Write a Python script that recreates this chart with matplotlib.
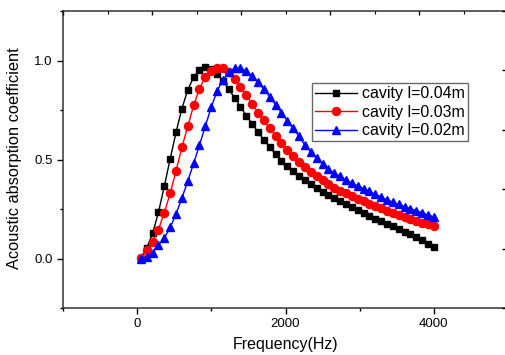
import matplotlib
matplotlib.use("Agg")
import matplotlib.pyplot as plt
from matplotlib.ticker import MultipleLocator

plt.rcParams['font.family'] = ['Liberation Sans', 'DejaVu Sans']

freq = [50, 129, 208, 287, 366, 445, 524, 603, 682, 761,
        840, 919, 998, 1077, 1156, 1235, 1314, 1393, 1472, 1551,
        1630, 1709, 1788, 1867, 1946, 2025, 2104, 2183, 2262, 2341,
        2420, 2499, 2578, 2657, 2736, 2815, 2894, 2973, 3052, 3131,
        3210, 3289, 3368, 3447, 3526, 3605, 3684, 3763, 3842, 3921, 4000]

l004 = [0.005, 0.053, 0.127, 0.233, 0.365, 0.503, 0.637, 0.757, 0.851, 0.916,
        0.952, 0.965, 0.958, 0.934, 0.897, 0.855, 0.811, 0.766, 0.722, 0.679,
        0.638, 0.599, 0.562, 0.527, 0.494, 0.466, 0.442, 0.418, 0.394, 0.374,
        0.355, 0.337, 0.322, 0.307, 0.292, 0.277, 0.260, 0.244, 0.229, 0.215,
        0.201, 0.188, 0.175, 0.162, 0.149, 0.136, 0.122, 0.107, 0.092, 0.075, 0.058]

l003 = [0.005, 0.043, 0.083, 0.146, 0.232, 0.329, 0.442, 0.561, 0.667, 0.773,
        0.857, 0.917, 0.948, 0.961, 0.961, 0.943, 0.906, 0.866, 0.824, 0.780,
        0.737, 0.697, 0.657, 0.619, 0.583, 0.549, 0.516, 0.489, 0.460, 0.437,
        0.416, 0.396, 0.377, 0.358, 0.343, 0.329, 0.314, 0.301, 0.289, 0.277,
        0.265, 0.254, 0.242, 0.231, 0.220, 0.209, 0.199, 0.190, 0.181, 0.173, 0.165]

l002 = [0.0, 0.008, 0.029, 0.068, 0.103, 0.157, 0.224, 0.305, 0.390, 0.480,
        0.573, 0.668, 0.764, 0.845, 0.903, 0.940, 0.960, 0.962, 0.946, 0.922,
        0.890, 0.854, 0.817, 0.777, 0.736, 0.695, 0.657, 0.617, 0.573, 0.538,
        0.506, 0.478, 0.452, 0.432, 0.415, 0.398, 0.382, 0.367, 0.353, 0.339,
        0.324, 0.310, 0.297, 0.285, 0.273, 0.262, 0.252, 0.242, 0.231, 0.220, 0.210]

labels = ['cavity l=0.04m', 'cavity l=0.03m', 'cavity l=0.02m']

fig = plt.figure(figsize=(5.06, 3.55), dpi=100)
ax = fig.add_axes([63/506, 47/355, 445/506, 297/355])

ax.plot(freq, l004, color='black', marker='s', markersize=5.0, lw=1, label=labels[0])
ax.plot(freq, l003, color='red', marker='o', markersize=5.8, lw=1, label=labels[1])
ax.plot(freq, l002, color='blue', marker='^', markersize=6.3, lw=1, label=labels[2])

ax.set_xlim(-1000, 5000)
ax.set_ylim(-0.25, 1.25)
ax.set_xticks([0, 2000, 4000])
ax.xaxis.set_minor_locator(MultipleLocator(1000))
ax.set_yticks([0.0, 0.5, 1.0])
ax.yaxis.set_minor_locator(MultipleLocator(0.25))
ax.tick_params(axis='both', which='major', direction='out', length=4, width=1,
               labelsize=9.5, top=False, right=False)
ax.tick_params(axis='both', which='minor', direction='out', length=2.5, width=1,
               top=False, right=False)
for s in ax.spines.values():
    s.set_linewidth(1.1)
    s.set_color('#333333')

ax.set_xlabel('Frequency(Hz)', fontsize=11.5)
ax.set_ylabel('Acoustic absorption coefficient', fontsize=11.8)
ax.xaxis.set_label_coords(0.5, -29/297)
ax.yaxis.set_label_coords(-41/445, (308-158)/297)

# stray ticks on top and right (from overlaid frame)
axt = ax.twiny()
axt.set_xlim(0, 5)
axt.xaxis.set_major_locator(MultipleLocator(1))
axt.xaxis.set_minor_locator(MultipleLocator(0.5))
axt.tick_params(axis='x', which='major', direction='in', length=3, width=1, labeltop=False)
axt.tick_params(axis='x', which='minor', direction='in', length=1.8, width=0.8)
axr = ax.twinx()
axr.set_ylim(0, 5)
axr.yaxis.set_major_locator(MultipleLocator(1))
axr.yaxis.set_minor_locator(MultipleLocator(0.5))
axr.tick_params(axis='y', which='major', direction='in', length=4, width=1, labelright=False)
axr.tick_params(axis='y', which='minor', direction='in', length=1.5, width=0.6)
for a in (axt, axr):
    for s in a.spines.values():
        s.set_visible(False)

leg = ax.legend(loc='upper left', bbox_to_anchor=((312-63)/445, (308-83)/297),
                fontsize=11.5, frameon=True, fancybox=False, edgecolor='#444444',
                handlelength=2.6, handletextpad=0.3, labelspacing=0.22,
                borderpad=0.2, borderaxespad=0)
leg.get_frame().set_linewidth(1.0)

fig.savefig('out.png', dpi=100)
